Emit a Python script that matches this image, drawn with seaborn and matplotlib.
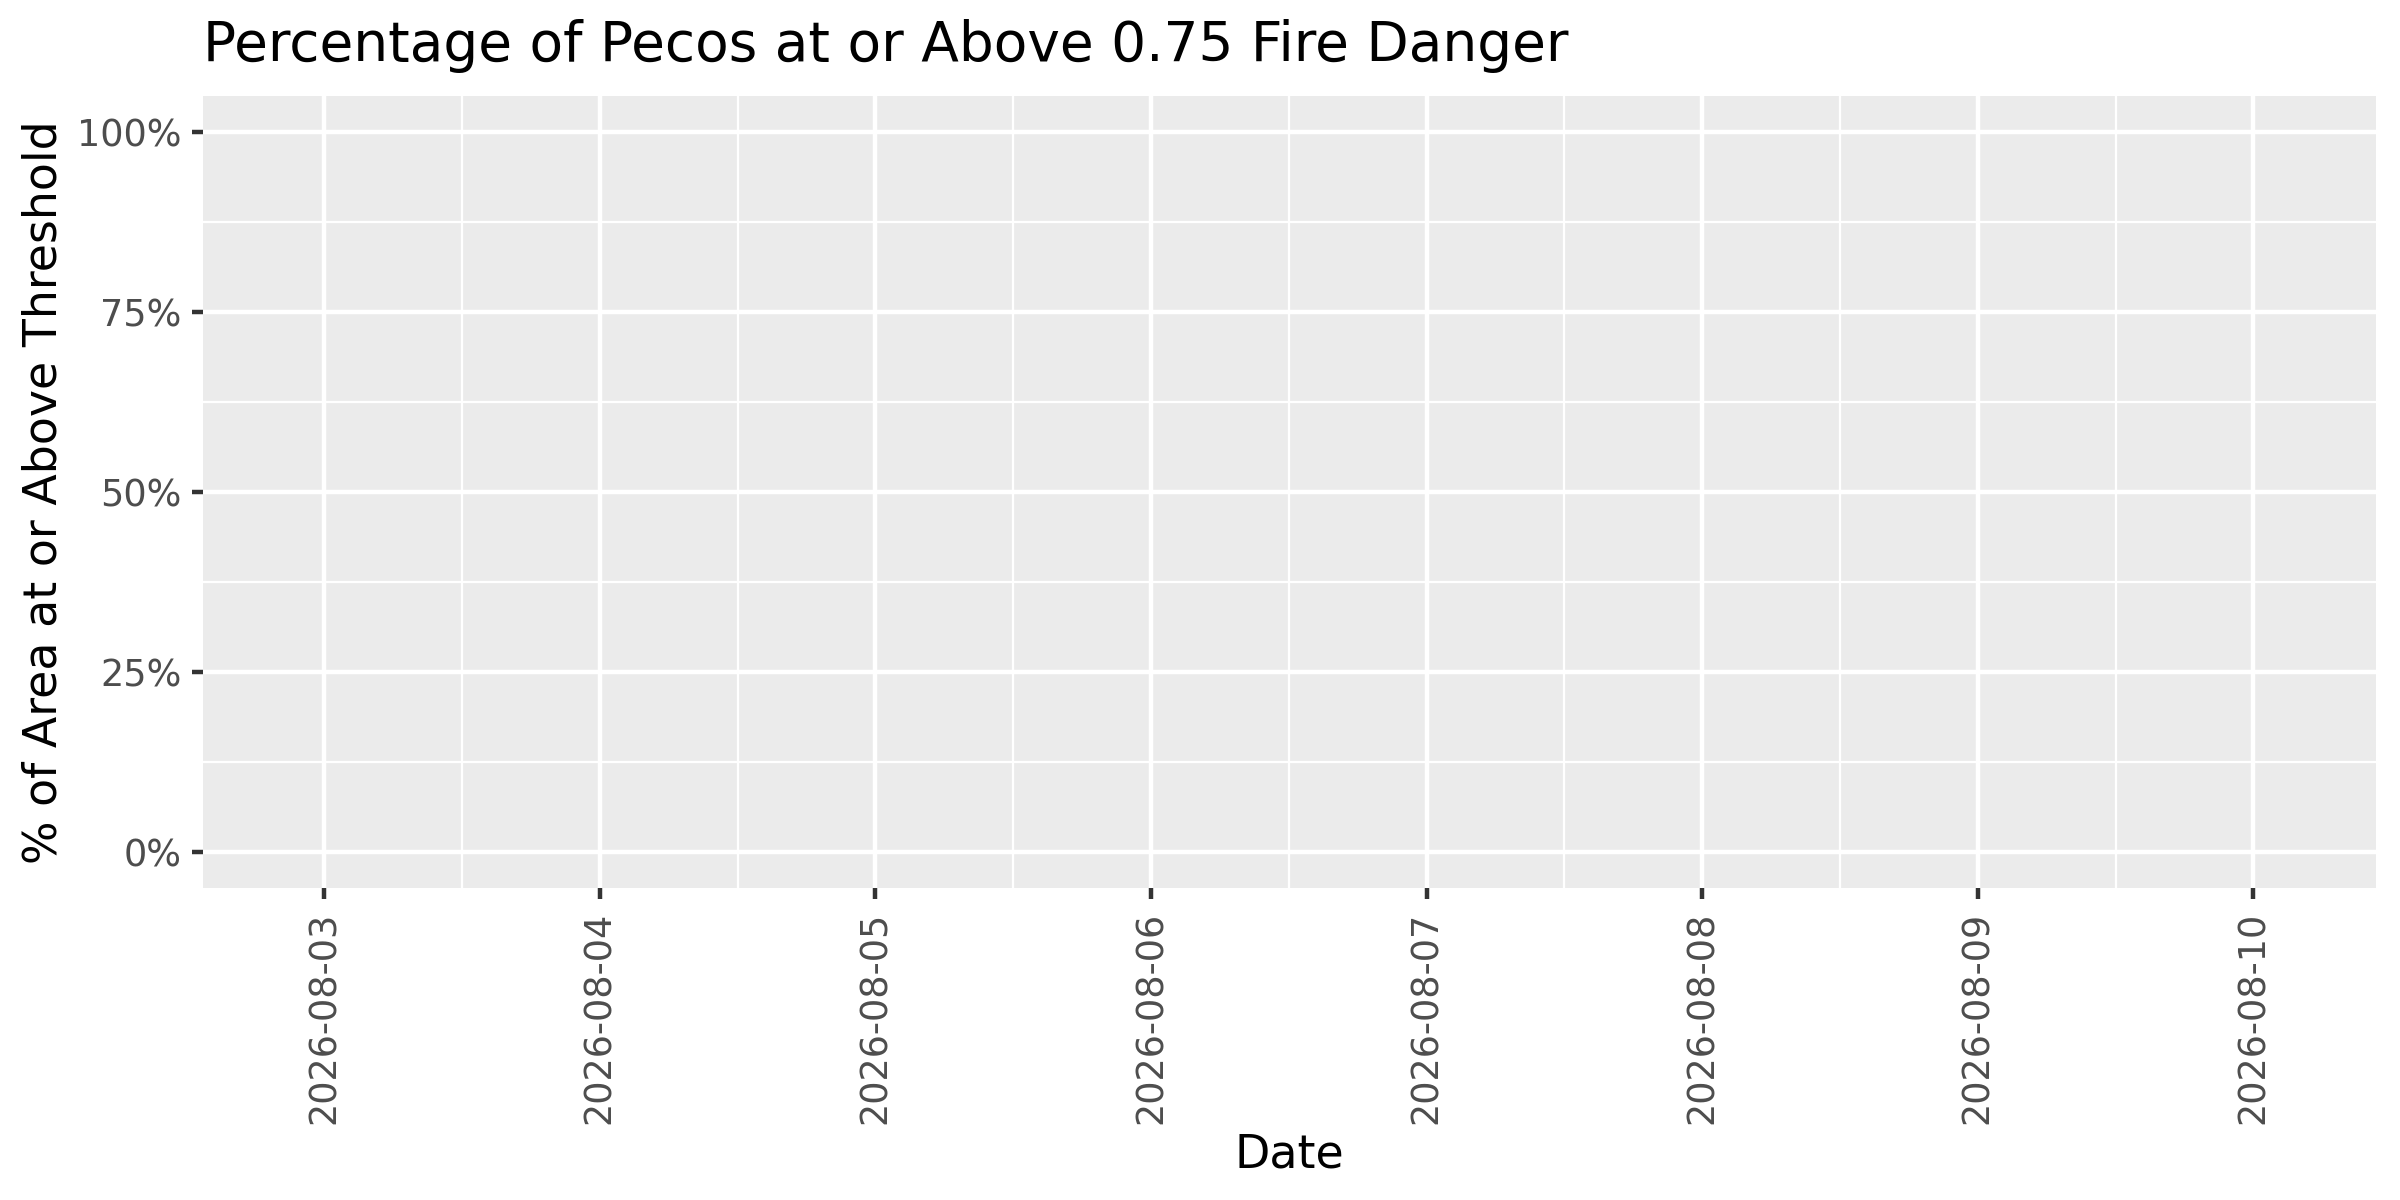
import numpy as np
import pandas as pd
import matplotlib
matplotlib.use("Agg")
import matplotlib.pyplot as plt
import matplotlib.dates as mdates
import seaborn as sns

# ---- data ----
dates = ["2026-08-03", "2026-08-04", "2026-08-05", "2026-08-06",
         "2026-08-07", "2026-08-08", "2026-08-09", "2026-08-10"]
# no values are drawn in the reference (the series is empty / missing)
pct_area = [np.nan, np.nan, np.nan, np.nan, np.nan, np.nan, np.nan, np.nan]
y_ticks = [0, 25, 50, 75, 100]
y_tick_labels = ["0%", "25%", "50%", "75%", "100%"]
title = "Percentage of Pecos at or Above 0.75 Fire Danger"
x_label = "Date"
y_label = "% of Area at or Above Threshold"

df = pd.DataFrame({"date": pd.to_datetime(dates), "pct": pct_area})

sns.set_theme(style="darkgrid")
plt.rcParams["font.family"] = ["DejaVu Sans"]

fig = plt.figure(figsize=(8, 4), dpi=300)
ax = fig.add_axes([203 / 2400, 1 - 888 / 1200, (2376 - 203) / 2400, (888 - 96) / 1200])
sns.lineplot(data=df, x="date", y="pct", ax=ax, color="black")

ax.set_facecolor("#EBEBEB")
for s in ax.spines.values():
    s.set_visible(False)

d0 = pd.Timestamp(dates[0])
d1 = pd.Timestamp(dates[-1])
ax.set_xlim(d0 - pd.Timedelta(days=0.44), d1 + pd.Timedelta(days=0.445))
ax.set_ylim(-5, 105)

ax.xaxis.set_major_locator(mdates.DayLocator())
ax.xaxis.set_major_formatter(mdates.DateFormatter("%Y-%m-%d"))
ax.xaxis.set_minor_locator(mdates.HourLocator(byhour=[12]))
ax.set_yticks(y_ticks)
ax.set_yticklabels(y_tick_labels)
ax.set_yticks([12.5, 37.5, 62.5, 87.5], minor=True)

ax.grid(which="major", color="white", linewidth=1.07)
ax.grid(which="minor", color="white", linewidth=0.53)
ax.set_axisbelow(True)

ax.tick_params(axis="both", which="major", length=2.74, width=1.07,
               color="#333333", labelcolor="#4D4D4D", labelsize=8.8)
ax.tick_params(axis="both", which="minor", length=0)
ax.tick_params(axis="y", pad=2.4, left=True)
ax.tick_params(axis="x", pad=3.0, bottom=True)
for lab in ax.get_xticklabels():
    lab.set_rotation(90)
    lab.set_ha("center")
    lab.set_va("top")

ax.set_xlabel("")
ax.set_ylabel("")

fig.text(203 / 2400, 1 - 46 / 1200, title, ha="left", va="center",
         fontsize=13.2, color="black")
fig.text(1289 / 2400, 1 - 1155 / 1200, x_label, ha="center", va="center",
         fontsize=11, color="black")
fig.text(44 / 2400, 1 - 492 / 1200, y_label, ha="center", va="center",
         rotation=90, fontsize=11, color="black")

fig.savefig("out.png", dpi=300, facecolor="white")
